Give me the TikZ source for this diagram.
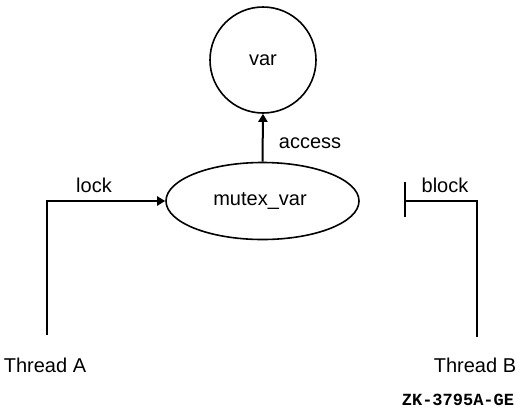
\documentclass[tikz,border=0pt]{standalone}
\usepackage{fontspec}
\setmainfont{Liberation Sans}
\newfontfamily\codefont{Liberation Mono}
\usetikzlibrary{shapes.geometric,arrows.meta}
\begin{document}
\begin{tikzpicture}[x=1pt,y=-1pt,
  line width=2pt,
  lbl/.style={font=\fontsize{20}{22}\selectfont, inner sep=0pt},
  conn/.style={draw, line width=2pt},
  arr/.style={-{Triangle[length=8pt,width=9pt]}}]
\useasboundingbox (0,0) rectangle (524,416);
\node[draw, circle, minimum size=106pt, inner sep=0pt, line width=1.6pt] (var) at (263,60) {};
\node[lbl] (vart) at (263,60) {var};
\node[draw, ellipse, minimum width=193pt, minimum height=77pt, inner sep=0pt, line width=1.6pt] (mutex) at (262.5,201) {};
\node[lbl] (mutext) at (260,201) {mutex\_var};
\draw[conn, arr] (mutex.north) -- (var.south);
\node[lbl] (access) at (310,143) {access};
\coordinate (ta) at (47,335);
\draw[conn, arr] (ta) |- (mutex.west);
\node[lbl] (lock) at (94,185) {lock};
\node[lbl] (threadA) at (45,365) {Thread A};
\coordinate (tb) at (477,337);
\coordinate (bar) at (405,201);
\coordinate (bartop) at (405,182);
\coordinate (barbot) at (405,217);
\draw[conn] (tb) |- (bar);
\draw[conn] (bartop) -- (barbot);
\node[lbl] (block) at (445,185) {block};
\node[lbl] (threadB) at (475,365) {Thread B};
\node[inner sep=0pt, font=\codefont\bfseries\fontsize{17}{19}\selectfont] (zk) at (458,400) {ZK-3795A-GE};
\end{tikzpicture}
\end{document}
